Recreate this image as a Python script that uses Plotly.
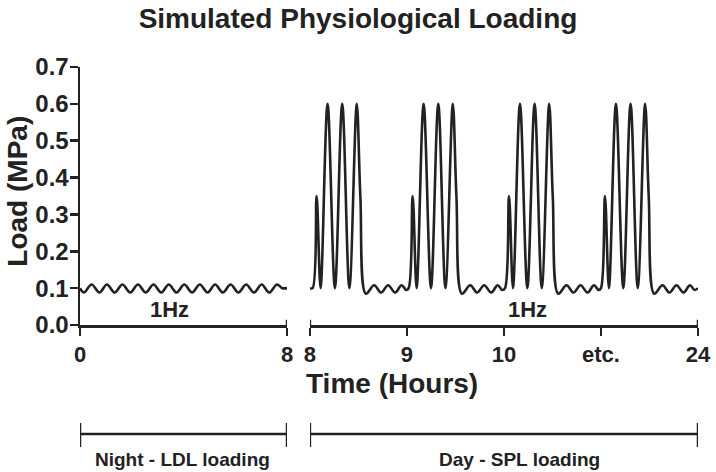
import plotly.graph_objects as go

# ---------------- data ----------------
# Night (0-8 h): low-amplitude 1 Hz loading around 0.1 MPa (peaks / troughs)
night_hours = [0.0, 0.15, 0.45, 0.75, 1.04, 1.34, 1.64, 1.94, 2.24, 2.54, 2.84, 3.14, 3.43,
               3.73, 4.03, 4.33, 4.63, 4.93, 5.22, 5.52, 5.82, 6.12, 6.42, 6.72, 7.02,
               7.31, 7.61, 7.82, 8.0]
night_load = [0.1, 0.088, 0.11, 0.088, 0.11, 0.088, 0.11, 0.088, 0.11, 0.088, 0.11, 0.088, 0.11,
              0.088, 0.11, 0.088, 0.11, 0.088, 0.11, 0.088, 0.11, 0.088, 0.11, 0.088, 0.11,
              0.088, 0.11, 0.1, 0.1]

# Day: one loading block (relative to the first spike of the block), repeated each hour
block_offsets = [-0.041, 0.0, 0.041, 0.113, 0.189, 0.264, 0.338, 0.414, 0.451, 0.508,
                 0.593, 0.665, 0.737, 0.809, 0.876, 0.923]
block_load = [0.1, 0.35, 0.1, 0.6, 0.1, 0.6, 0.1, 0.6, 0.35, 0.085,
              0.108, 0.088, 0.108, 0.088, 0.108, 0.095]
block_spike_times = [8.069, 9.059, 10.052, 11.041]
day_start = [(8.0, 0.1)]
day_end = [(12.0, 0.1)]

night_ticks = [0, 8]
night_ticktext = ["0", "8"]
day_ticks = [8, 9, 10, 11, 12]
day_ticktext = ["8", "9", "10", "etc.", "24"]
y_ticks = [0.0, 0.1, 0.2, 0.3, 0.4, 0.5, 0.6, 0.7]

# assemble day series
day_x = [p[0] for p in day_start]
day_y = [p[1] for p in day_start]
for t in block_spike_times:
    for o, v in zip(block_offsets, block_load):
        day_x.append(t + o)
        day_y.append(v)
day_x += [p[0] for p in day_end]
day_y += [p[1] for p in day_end]

INK = "#222222"
FONT = "Liberation Sans, Arial, sans-serif"

W, H = 716, 472

fig = go.Figure()
fig.add_trace(go.Scatter(x=night_hours, y=night_load, mode="lines",
                         line=dict(color=INK, width=2.6, shape="spline", smoothing=1.0),
                         xaxis="x", yaxis="y", showlegend=False, cliponaxis=False,
                         hoverinfo="skip"))
fig.add_trace(go.Scatter(x=day_x, y=day_y, mode="lines",
                         line=dict(color=INK, width=2.6, shape="spline", smoothing=1.0),
                         xaxis="x2", yaxis="y", showlegend=False, cliponaxis=False,
                         hoverinfo="skip"))

axis_common = dict(showline=True, linecolor=INK, linewidth=2.5, ticks="outside",
                   ticklen=8, tickwidth=2.5, tickcolor=INK, showgrid=False, zeroline=False,
                   automargin=False,
                   tickfont=dict(family=FONT, size=22, color=INK, weight="bold"))

fig.update_layout(
    template="none",
    width=W, height=H,
    margin=dict(l=80, r=18, t=67, b=147, pad=0, autoexpand=False),
    paper_bgcolor="white", plot_bgcolor="white",
    title=dict(text="<b>Simulated Physiological Loading</b>", x=0.5, xanchor="center",
               y=1 - 18 / H, yanchor="middle",
               font=dict(family=FONT, size=28, color=INK)),
    xaxis=dict(domain=[0, 0.335], range=[0, 8], tickvals=night_ticks, ticktext=night_ticktext,
               anchor="y", **axis_common),
    xaxis2=dict(domain=[0.372, 1], range=[8, 12], tickvals=day_ticks, ticktext=day_ticktext,
                anchor="y", **axis_common),
    yaxis=dict(range=[0, 0.7], tickvals=y_ticks, tickformat=".1f", anchor="x",
               ticklabelstandoff=-4,
               **{**axis_common, "tickfont": dict(family=FONT, size=24, color=INK, weight="bold")}),
)

ann_font = dict(family=FONT, color=INK)
fig.add_annotation(text="<b>Load (MPa)</b>", xref="paper", yref="paper", x=-0.101, y=0.519,
                   textangle=-90, showarrow=False, xanchor="center", yanchor="middle",
                   font=dict(size=28, **ann_font))
fig.add_annotation(text="<b>Time (Hours)</b>", xref="paper", yref="paper", x=0.505, y=-0.225,
                   showarrow=False, xanchor="center", yanchor="middle", font=dict(size=28, **ann_font))
fig.add_annotation(text="<b>1Hz</b>", xref="x", yref="y", x=3.46, y=0.042, showarrow=False,
                   xanchor="center", yanchor="middle", font=dict(size=22, **ann_font))
fig.add_annotation(text="<b>1Hz</b>", xref="x2", yref="y", x=10.24, y=0.042, showarrow=False,
                   xanchor="center", yanchor="middle", font=dict(size=22, **ann_font))
fig.add_annotation(text="<b>Night - LDL loading</b>", xref="x", yref="paper", x=3.97, y=-0.523,
                   showarrow=False, xanchor="center", yanchor="middle", font=dict(size=19, **ann_font))
fig.add_annotation(text="<b>Day - SPL loading</b>", xref="x2", yref="paper", x=10.16, y=-0.523,
                   showarrow=False, xanchor="center", yanchor="middle", font=dict(size=19, **ann_font))

# end caps of the x axes poke slightly above the axis line
for xr, xv in [("x", 8), ("x2", 8), ("x2", 12)]:
    fig.add_shape(type="line", xref=xr, yref="y", x0=xv, x1=xv, y0=0, y1=0.014,
                  line=dict(color=INK, width=2.5))

# brackets under the axis
yb, ycap0, ycap1 = -0.4225, -0.38, -0.473
for xr, a, b in [("x", 0, 8), ("x2", 8, 12)]:
    fig.add_shape(type="line", xref=xr, yref="paper", x0=a, x1=b, y0=yb, y1=yb,
                  line=dict(color=INK, width=2.5))
    for xv in (a, b):
        fig.add_shape(type="line", xref=xr, yref="paper", x0=xv, x1=xv, y0=ycap0, y1=ycap1,
                      line=dict(color=INK, width=2.5))

fig.write_html("out.html",
               config={"displayModeBar": False, "staticPlot": True},
               post_script="document.body.style.margin='0';document.body.style.padding='0';"
                           "document.body.style.overflow='hidden';")
